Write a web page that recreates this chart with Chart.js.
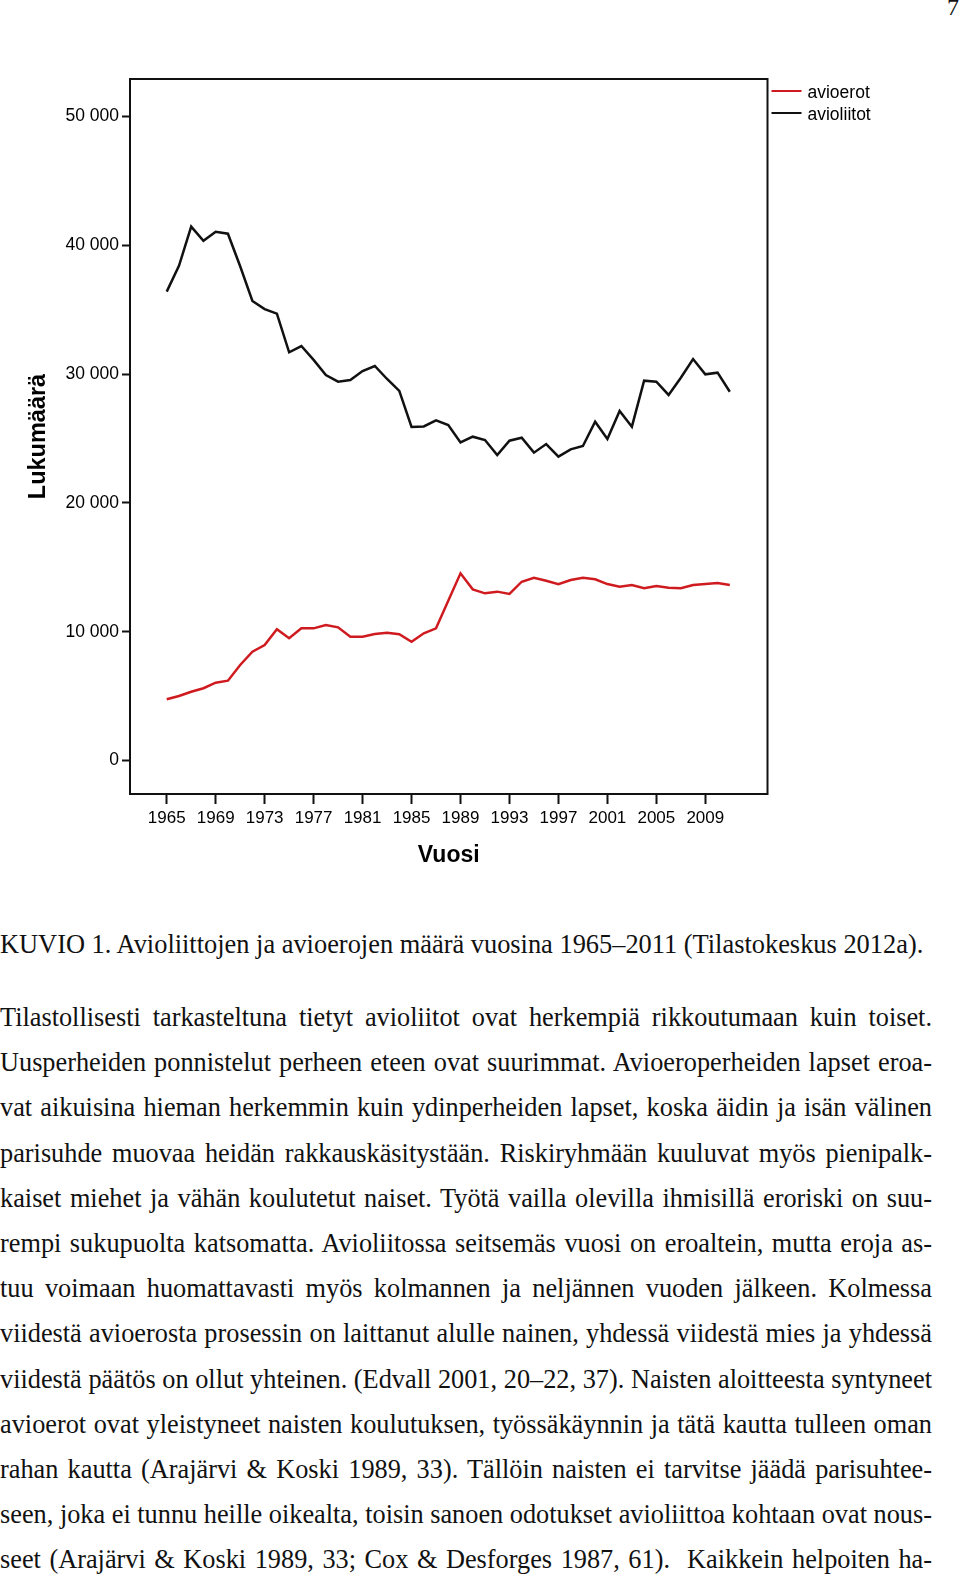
<!DOCTYPE html>
<html lang="fi">
<head>
<meta charset="utf-8">
<script src="https://cdn.jsdelivr.net/npm/chart.js@4.4.0/dist/chart.umd.min.js"></script>
<style>
  html, body { margin: 0; padding: 0; background: #fff; }
  body {
    width: 960px; height: 1576px; position: relative; overflow: hidden;
    font-family: "Liberation Serif", "Times New Roman", serif; color: #111;
  }
  #chart-box { position: absolute; left: 0; top: 0; width: 960px; height: 874px; }
  #page-no { position: absolute; left: 947px; top: -6px; font-size: 24px; }
  #caption { position: absolute; left: 0; top: 922px; font-size: 26.4px; line-height: 45px; white-space: nowrap; }
  #body-text { position: absolute; left: 0; top: 995px; width: 932px; font-size: 26.3px; }
  #body-text div { height: 45.2px; line-height: 45.2px; text-align: justify; text-align-last: justify; }
</style>
</head>
<body>
<div id="page-no">7</div>
<div id="chart-box"><canvas id="myChart" width="960" height="874"></canvas></div>

<div id="caption">KUVIO 1. Avioliittojen ja avioerojen määrä vuosina 1965–2011 (Tilastokeskus 2012a).</div>
<div id="body-text">
  <div>Tilastollisesti tarkasteltuna tietyt avioliitot ovat herkempiä rikkoutumaan kuin toiset.</div>
  <div>Uusperheiden ponnistelut perheen eteen ovat suurimmat. Avioeroperheiden lapset eroa-</div>
  <div>vat aikuisina hieman herkemmin kuin ydinperheiden lapset, koska äidin ja isän välinen</div>
  <div>parisuhde muovaa heidän rakkauskäsitystään. Riskiryhmään kuuluvat myös pienipalk-</div>
  <div>kaiset miehet ja vähän koulutetut naiset. Työtä vailla olevilla ihmisillä eroriski on suu-</div>
  <div>rempi sukupuolta katsomatta. Avioliitossa seitsemäs vuosi on eroaltein, mutta eroja as-</div>
  <div>tuu voimaan huomattavasti myös kolmannen ja neljännen vuoden jälkeen. Kolmessa</div>
  <div>viidestä avioerosta prosessin on laittanut alulle nainen, yhdessä viidestä mies ja yhdessä</div>
  <div>viidestä päätös on ollut yhteinen. (Edvall 2001, 20–22, 37). Naisten aloitteesta syntyneet</div>
  <div>avioerot ovat yleistyneet naisten koulutuksen, työssäkäynnin ja tätä kautta tulleen oman</div>
  <div>rahan kautta (Arajärvi &amp; Koski 1989, 33). Tällöin naisten ei tarvitse jäädä parisuhtee-</div>
  <div>seen, joka ei tunnu heille oikealta, toisin sanoen odotukset avioliittoa kohtaan ovat nous-</div>
  <div>seet (Arajärvi &amp; Koski 1989, 33; Cox &amp; Desforges 1987, 61).&nbsp; Kaikkein helpoiten ha-</div>
</div>

<script>
const years = [1965, 1966, 1967, 1968, 1969, 1970, 1971, 1972, 1973, 1974,
  1975, 1976, 1977, 1978, 1979, 1980, 1981, 1982, 1983, 1984,
  1985, 1986, 1987, 1988, 1989, 1990, 1991, 1992, 1993, 1994,
  1995, 1996, 1997, 1998, 1999, 2000, 2001, 2002, 2003, 2004,
  2005, 2006, 2007, 2008, 2009, 2010, 2011];

// divorces
const avioerot = [4750, 5010, 5340, 5610, 6040, 6200, 7420, 8450, 8970, 10190,
  9490, 10260, 10260, 10520, 10340, 9610, 9610, 9820, 9920, 9800,
  9220, 9880, 10260, 12400, 14530, 13290, 12980, 13110, 12930, 13880,
  14190, 13960, 13680, 14010, 14190, 14070, 13700, 13490, 13630, 13370,
  13550, 13420, 13370, 13630, 13700, 13780, 13630];

// marriages
const avioliitot = [36400, 38400, 41450, 40350, 41050, 40900, 38370, 35680, 35050, 34690,
  31690, 32180, 31100, 29930, 29410, 29540, 30240, 30630, 29620, 28690,
  25900, 25940, 26410, 26050, 24700, 25140, 24880, 23720, 24830, 25060,
  23900, 24570, 23590, 24160, 24420, 26300, 24960, 27140, 25920, 29490,
  29410, 28380, 29720, 31170, 29980, 30110, 28630];

const xTicks = [1965, 1969, 1973, 1977, 1981, 1985, 1989, 1993, 1997, 2001, 2005, 2009];
const yTicks = [0, 10000, 20000, 30000, 40000, 50000];

const sans = '"Liberation Sans", Arial, sans-serif';

// box round the plot, SPSS style
const framePlugin = {
    id: 'frame',
    afterDraw(chart) {
        const {ctx, chartArea: a} = chart;
        ctx.save();
        ctx.strokeStyle = '#111';
        ctx.lineWidth = 2;
        ctx.strokeRect(a.left, a.top, a.right - a.left, a.bottom - a.top);
        ctx.restore();
    }
};

// legend sits just outside the top right corner
const sideLegend = {
    id: 'sideLegend',
    afterDraw(chart) {
        const {ctx, chartArea: a} = chart;
        ctx.save();
        ctx.font = '17.5px ' + sans;
        ctx.textBaseline = 'middle';
        chart.data.datasets.forEach((ds, i) => {
            const y = a.top + 12 + i * 22;
            ctx.strokeStyle = ds.borderColor;
            ctx.lineWidth = 2;
            ctx.beginPath();
            ctx.moveTo(a.right + 4, y);
            ctx.lineTo(a.right + 34, y);
            ctx.stroke();
            ctx.fillStyle = '#000';
            ctx.fillText(ds.label, a.right + 40, y + 2);
        });
        ctx.restore();
    }
};

const ctx = document.getElementById('myChart');
new Chart(ctx, {
    type: 'line',
    data: {
        datasets: [{
            label: 'avioerot',
            data: years.map((y, i) => ({x: y, y: avioerot[i]})),
            borderColor: '#cf1b1f',
            borderWidth: 2.5,
            pointRadius: 0,
            fill: false
        }, {
            label: 'avioliitot',
            data: years.map((y, i) => ({x: y, y: avioliitot[i]})),
            borderColor: '#111111',
            borderWidth: 2.5,
            pointRadius: 0,
            fill: false
        }]
    },
    options: {
        responsive: false,
        animation: false,
        devicePixelRatio: 1,
        layout: {padding: {top: 79, right: 192.5, bottom: 0, left: 0}},
        plugins: {legend: {display: false}, tooltip: {enabled: false}},
        scales: {
            x: {
                type: 'linear',
                min: 1962,
                max: 2014.08,
                afterBuildTicks: s => { s.ticks = xTicks.map(v => ({value: v})); },
                afterFit: s => { s.height = 80; },
                ticks: {
                    autoSkip: false, maxRotation: 0, padding: 4, color: '#000',
                    font: {family: sans, size: 17},
                    callback: v => String(v)
                },
                grid: {drawOnChartArea: false, drawTicks: true, tickLength: 10, tickColor: '#111', tickWidth: 2},
                border: {display: false},
                title: {
                    display: true, text: 'Vuosi', color: '#000',
                    font: {family: sans, size: 23, weight: 'bold'},
                    padding: {top: 0, bottom: 5}
                }
            },
            y: {
                type: 'linear',
                min: -2600,
                max: 52910,
                afterBuildTicks: s => { s.ticks = yTicks.map(v => ({value: v})); },
                afterFit: s => { s.width = 130; },
                ticks: {
                    padding: 3, color: '#000',
                    font: {family: sans, size: 17.5},
                    callback: v => String(v).replace(/\B(?=(\d{3})+(?!\d))/g, ' ')
                },
                grid: {drawOnChartArea: false, drawTicks: true, tickLength: 8, tickColor: '#111', tickWidth: 2},
                border: {display: false},
                title: {
                    display: true, text: 'Lukumäärä', color: '#000',
                    font: {family: sans, size: 23.5, weight: 'bold'},
                    padding: {top: 24, bottom: 0}
                }
            }
        }
    },
    plugins: [framePlugin, sideLegend]
});
</script>
</body>
</html>
